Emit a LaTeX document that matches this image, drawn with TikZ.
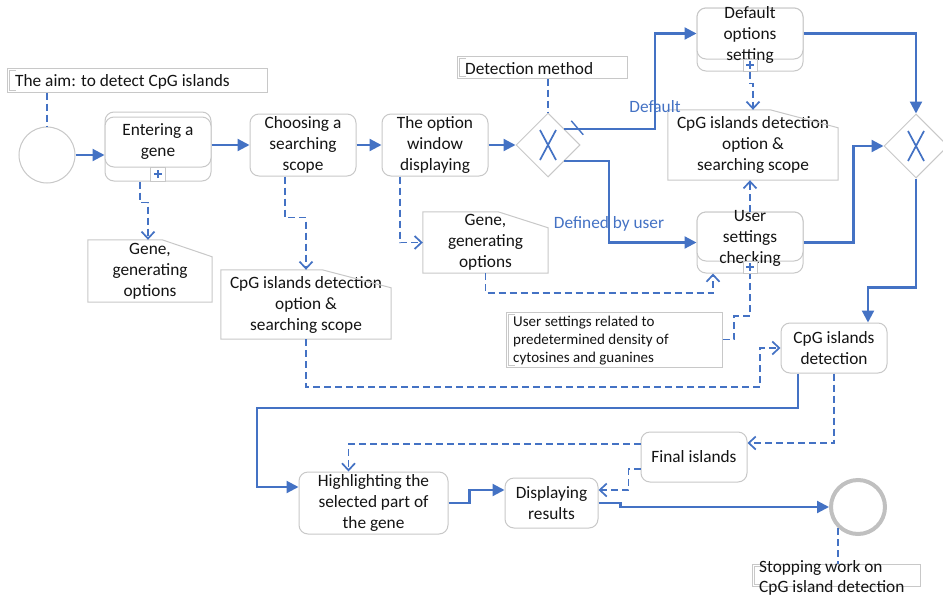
\documentclass[tikz,border=0pt]{standalone}
\usepackage{fontspec}
\setmainfont{Carlito}
\usetikzlibrary{arrows.meta,shapes.geometric,calc}

\definecolor{bpmnblue}{RGB}{68,114,196}
\definecolor{shapegray}{RGB}{200,200,200}
\definecolor{ringgray}{RGB}{192,192,192}
\definecolor{inkgray}{RGB}{20,20,20}

% folded-corner data object drawn around a named node
\newcommand{\datafold}[3]{%
  \draw[shapegray, line width=1pt] (#1.south west) -- (#1.north west)
    -- ([xshift=-#2pt]#1.north east) -- ([yshift=-#3pt]#1.north east)
    -- (#1.south east) -- cycle;}
% inner bracket of a text annotation
\newcommand{\notebracket}[1]{%
  \draw[shapegray, line width=0.7pt] ([shift={(9pt,-2.5pt)}]#1.north west)
    -| ([shift={(2.5pt,2.5pt)}]#1.south west) -- ++(6.5,0);}
% collapsed sub-process marker
\newcommand{\plussign}[1]{%
  \draw[bpmnblue, line width=1.3pt] ($(#1)+(-4,0)$) -- ++(8,0) ($(#1)+(0,-4)$) -- ++(0,8);}
% exclusive gateway cross
\newcommand{\gatex}[1]{%
  \draw[bpmnblue, line width=1.7pt] ($(#1)+(-8,-15)$) -- ($(#1)+(8,15)$)
    ($(#1)+(8,-15)$) -- ($(#1)+(-8,15)$);}

\begin{document}
\begin{tikzpicture}[x=1pt, y=-1pt,
  font=\fontsize{17.3}{21}\selectfont, text=inkgray,
  taskbox/.style={draw=shapegray, line width=1pt, rounded corners=9pt, fill=white,
    align=center, inner sep=0pt, minimum width=106pt, minimum height=50pt},
  taskframe/.style={draw=shapegray, line width=1pt, rounded corners=9pt, fill=white,
    inner sep=0pt, minimum width=106pt},
  tasklabel/.style={align=center, inner sep=0pt},
  plusbox/.style={draw=shapegray, line width=1pt, fill=white, inner sep=0pt,
    minimum width=14pt, minimum height=12pt},
  notebox/.style={draw=shapegray, line width=1pt, inner sep=0pt, fill=white},
  docbox/.style={align=center, inner sep=0pt},
  gatebox/.style={diamond, draw=shapegray, line width=1pt, fill=white, inner sep=0pt,
    minimum width=64pt, minimum height=64pt},
  seqflow/.style={draw=bpmnblue, line width=2.2pt, -{Triangle[length=12pt,width=12pt]}},
  assocline/.style={draw=bpmnblue, line width=1.7pt, dash pattern=on 7pt off 4pt},
  dataassoc/.style={assocline, -{Straight Barb[length=7pt,width=13pt]}},
  flowlabel/.style={text=bpmnblue, inner sep=0pt}]

\fill[white] (0,0) rectangle (943,595);
\useasboundingbox (0,0) rectangle (943,595);

% ---------- events ----------
\node[circle, draw=shapegray, line width=1pt, minimum size=56pt, inner sep=0pt] (start) at (47,155) {};
\node[circle, draw=ringgray, line width=4pt, minimum size=54pt, inner sep=0pt] (endev) at (858,507) {};

% ---------- text annotations ----------
\node[notebox, minimum width=260pt, minimum height=24pt] (aim) at (137,80) {};
\node[anchor=west, inner sep=0pt] (aimtext) at (15,81.5) {The aim: to detect CpG islands};
\notebracket{aim}

\node[notebox, minimum width=170pt, minimum height=22pt] (detm) at (542,67) {};
\node[anchor=west, inner sep=0pt] (detmtext) at (465,68.5) {Detection method};
\notebracket{detm}

\node[notebox, minimum width=216pt, minimum height=55pt] (userann) at (614,339.5) {};
\node[anchor=west, inner sep=0pt, align=left, font=\fontsize{15}{18}\selectfont] (userannt) at (513,341)
  {User settings related to\\predetermined density of\\cytosines and guanines};
\notebracket{userann}

\node[notebox, minimum width=168pt, minimum height=22pt] (stopann) at (836,575) {};
\notebracket{stopann}
\node[anchor=west, inner sep=0pt, align=left, font=\fontsize{17.3}{20}\selectfont] (stoptext) at (759,577.5)
  {Stopping work on\\CpG island detection};

% ---------- tasks ----------
\node[taskframe, minimum height=69pt] (enterframe) at (158,146.5) {};
\node[taskbox] (enter) at (158,142) {Entering a\\gene};
\node[plusbox, minimum width=15pt, minimum height=14pt] (entermark) at (158,174) {};
\plussign{entermark}

\node[taskbox, minimum height=62pt] (choose) at (303,145) {Choosing a\\searching\\scope};
\node[taskbox, minimum height=62pt] (optwin) at (435,145) {The option\\window\\displaying};

\node[taskframe, minimum height=63pt] (dosframe) at (750,39.5) {};
\node[taskbox, minimum height=51pt] (dos) at (750,33.5) {};
\node[tasklabel] (dostext) at ([yshift=-1.5pt]dos.center) {Default\\options\\setting};
\node[plusbox] (dosmark) at (750,65) {};
\plussign{dosmark}

\node[taskframe, minimum height=61pt] (uscframe) at (750,242.5) {};
\node[taskbox, minimum height=49pt] (usc) at (750,236.5) {};
\node[tasklabel] (usctext) at ([yshift=-1.5pt]usc.center) {User\\settings\\checking};
\node[plusbox] (uscmark) at (750,267) {};
\plussign{uscmark}

\node[taskbox] (detect) at (834,348) {CpG islands\\detection};
\node[taskbox] (final) at (694,457) {Final islands};
\node[taskbox, minimum width=149pt, minimum height=62pt] (highlight) at (373.5,503)
  {Highlighting the\\selected part of\\the gene};
\node[taskbox, minimum width=93pt] (display) at (551.5,503) {Displaying\\results};

% ---------- gateways ----------
\node[gatebox] (gw1) at (548,145) {};
\gatex{gw1}
\node[gatebox] (gw2) at (916,146) {};
\gatex{gw2}

% ---------- data objects ----------
\node[docbox, minimum width=124pt, minimum height=62pt] (gene1) at (150,271) {Gene,\\generating\\options};
\datafold{gene1}{50}{17}
\node[docbox, minimum width=125pt, minimum height=61pt] (gene2) at (485.5,242.5) {Gene,\\generating\\options};
\datafold{gene2}{50}{16}
\node[docbox, minimum width=170pt, minimum height=70pt] (cpgopt1) at (753,145)
  {CpG islands detection\\option \&\\searching scope};
\datafold{cpgopt1}{68}{18}
\node[docbox, minimum width=170pt, minimum height=69pt] (cpgopt2) at (306,304.5)
  {CpG islands detection\\option \&\\searching scope};
\datafold{cpgopt2}{69}{18}

% ---------- sequence flows ----------
\draw[seqflow] (start.east) -- (start -| enterframe.west);
\draw[seqflow] (enter.east |- choose.west) -- (choose.west);
\draw[seqflow] (choose) -- (optwin);
\draw[seqflow] (optwin) -- (gw1);
\draw[seqflow] (gw1.north east) -- ++(91,0) |- (dos.west);
\draw[bpmnblue, line width=1.4pt] ($(gw1.north east)+(7,-8)$) -- ++(12,14);
\node[flowlabel] (deflabel) at (655,107) {Default};
\draw[seqflow] (gw1.south east) -- ++(45,0) |- (uscframe.west);
\node[flowlabel] (userlabel) at (609,224) {Defined by user};
\draw[seqflow] (dos.east) -| (gw2.north);
\draw[seqflow] (uscframe.east) -- ++(50,0) |- (gw2.west);
\draw[seqflow] (gw2.south) -- ++(0,109) -| ([xshift=34pt]detect.north);
\draw[seqflow] ([xshift=-36pt]detect.south) |- (257,408) |- ([yshift=16pt]highlight.west);
\draw[seqflow] (highlight.east) -- ++(21,0) |- ([yshift=13pt]display.west);
\draw[seqflow] (display.east) -- ++(22,0) |- (endev.west);

% ---------- associations ----------
\draw[assocline] (start |- aim.south) -- (start.north);
\draw[assocline] (gw1 |- detm.south) -- (gw1.north);
\draw[assocline] (userann.east) -| (734,316) -| (uscmark.south);
\draw[assocline] (endev.-133) -- (endev.-133 |- stopann.north);

\draw[dataassoc] ([xshift=-18pt]enterframe.south) -- ++(0,21) -| ([xshift=-2pt]gene1.north);
\draw[dataassoc] ([xshift=-18pt]choose.south) -- ++(0,41) -| (cpgopt2.north);
\draw[dataassoc] ([xshift=-35pt]optwin.south) |- (gene2.west);
\draw[dataassoc] (dosmark.south) -- ++(0,12) -| (cpgopt1.north);
\draw[dataassoc] (usc.north) -- (usc.north |- cpgopt1.south);
\draw[dataassoc] (gene2.south) -- ++(0,20) -| ([xshift=-37pt]uscframe.south);
\draw[dataassoc] (cpgopt2.south) -- ++(0,48) -| (760,348) -- (detect.west);
\draw[dataassoc] (detect.south) |- ([yshift=14pt]final.east);
\draw[dataassoc] ([yshift=13pt]final.west) -| ([xshift=-25pt]highlight.north);
\draw[dataassoc] ([yshift=-12pt]final.west) -- ++(-12,0) |- ([yshift=13pt]display.east);

\end{tikzpicture}
\end{document}
